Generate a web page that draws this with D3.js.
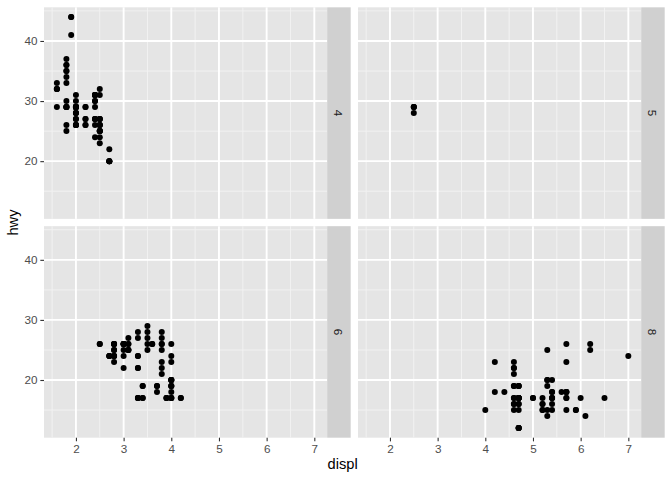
<!DOCTYPE html>
<html><head><meta charset="utf-8">
<script src="https://cdn.jsdelivr.net/npm/d3@7"></script>
<style>body{margin:0;background:#fff}svg{display:block}text{font-family:"Liberation Sans",Arial,Helvetica,sans-serif}</style>
</head><body><svg id="c" width="672" height="480"></svg>
<script>
// ---- data (mpg: displ vs hwy, faceted by cyl) ----
const facetLabels = ["4", "5", "6", "8"];
const displ4 = [1.8,1.8,2.0,2.0,1.8,1.8,2.0,2.0,2.4,2.4,2.4,1.6,1.6,1.6,1.6,1.6,1.8,1.8,1.8,2.0,2.4,2.4,2.4,2.4,2.0,2.0,2.0,2.0,2.4,2.4,2.5,2.5,2.5,2.5,2.5,2.5,2.5,2.5,2.2,2.2,2.5,2.5,2.5,2.5,2.5,2.5,2.7,2.7,2.2,2.2,2.4,2.4,2.2,2.2,2.4,2.4,1.8,1.8,1.8,1.8,1.8,2.7,2.7,2.7,2.0,2.0,2.0,2.0,1.9,2.0,2.0,2.0,2.0,1.9,1.9,2.0,2.0,1.8,1.8,2.0,2.0];
const hwy4   = [29,29,31,30,26,25,28,27,27,30,24,33,32,32,29,32,34,36,36,29,26,27,30,31,26,29,28,27,29,27,31,32,25,24,27,25,26,23,26,26,26,26,25,27,25,27,20,20,29,27,31,31,27,29,31,31,30,33,35,37,35,20,20,22,29,26,29,29,44,29,26,29,29,44,41,29,26,29,29,28,29];
const displ5 = [2.5,2.5,2.5,2.5];
const hwy5   = [29,29,28,29];
const displ6 = [2.8,2.8,3.1,2.8,2.8,3.1,3.1,2.8,3.1,3.1,3.5,3.6,3.0,3.3,3.3,3.3,3.3,3.3,3.8,3.8,3.8,4.0,3.7,3.7,3.9,3.9,3.9,4.0,4.0,4.0,4.0,4.2,4.2,3.8,3.8,4.0,4.0,2.5,2.5,3.3,2.7,2.7,2.7,3.0,3.7,4.0,4.0,4.0,3.5,3.5,3.0,3.0,3.5,3.3,3.3,4.0,3.1,3.8,3.8,3.8,3.4,3.4,4.0,3.0,3.0,3.5,3.0,3.0,3.3,3.4,3.4,4.0,4.0,2.8,2.8,2.8,2.8,2.8,3.6];
const hwy6   = [26,26,27,25,25,25,25,24,25,26,29,26,24,22,22,24,24,17,22,21,23,23,19,18,17,17,17,17,19,17,19,17,17,26,25,26,24,26,26,28,24,24,24,22,19,20,17,19,27,26,26,25,25,17,17,20,26,26,27,28,19,17,20,26,26,28,26,26,27,17,19,18,20,24,23,24,26,26,26];
const displ8 = [4.2,5.3,5.3,5.3,5.7,6.0,5.7,5.7,6.2,6.2,7.0,5.3,5.3,5.7,6.5,4.7,4.7,4.7,5.2,5.2,4.7,4.7,4.7,5.2,5.7,5.9,4.7,4.7,4.7,4.7,4.7,5.2,5.2,5.7,5.9,4.6,5.4,5.4,4.6,5.0,4.6,4.6,4.6,5.4,5.4,4.6,4.6,4.6,4.6,5.4,4.7,4.7,4.7,5.7,6.1,4.0,4.2,4.4,4.6,5.4,5.4,5.4,4.6,5.0,5.6,5.3,4.7,4.7,5.7];
const hwy8   = [23,20,15,20,17,17,26,23,26,25,24,19,14,15,17,19,19,12,17,15,17,12,17,16,18,15,16,12,17,17,16,15,16,17,15,17,17,18,19,17,16,16,17,15,17,21,22,23,22,20,17,12,19,18,14,15,18,18,15,17,16,18,19,17,18,25,17,15,18];
const xTicks = [2, 3, 4, 5, 6, 7];
const yTicks = [20, 30, 40];
const xMinor = [1.5, 2.5, 3.5, 4.5, 5.5, 6.5];
const yMinor = [15, 25, 35, 45];

const facets = [
  {label: facetLabels[0], x: displ4, y: hwy4},
  {label: facetLabels[1], x: displ5, y: hwy5},
  {label: facetLabels[2], x: displ6, y: hwy6},
  {label: facetLabels[3], x: displ8, y: hwy8}
];

// ---- layout ----
const svg = d3.select("#c");
const L = 44, R = 664.7, T = 7.33, B = 437.7;
const stripW = 23.5, gap = 7.33;
const pw = (R - L - 2 * stripW - gap) / 2;
const ph = (B - T - gap) / 2;

const allX = [].concat(displ4, displ5, displ6, displ8);
const allY = [].concat(hwy4, hwy5, hwy6, hwy8);
const [x0, x1] = d3.extent(allX), [y0, y1] = d3.extent(allY);
const xd = [x0 - 0.05 * (x1 - x0), x1 + 0.05 * (x1 - x0)];
const yd = [y0 - 0.05 * (y1 - y0), y1 + 0.05 * (y1 - y0)];
const x = d3.scaleLinear().domain(xd).range([0, pw]);
const y = d3.scaleLinear().domain(yd).range([ph, 0]);

facets.forEach((f, i) => {
  const col = i % 2, row = Math.floor(i / 2);
  const px = L + col * (pw + stripW + gap);
  const py = T + row * (ph + gap);
  const g = svg.append("g").attr("transform", `translate(${px},${py})`);
  g.append("rect").attr("width", pw).attr("height", ph).attr("fill", "#E5E5E5");
  // minor grid
  g.selectAll(".mx").data(xMinor.filter(v => v > xd[0] && v < xd[1])).enter().append("line")
    .attr("x1", d => x(d)).attr("x2", d => x(d)).attr("y1", 0).attr("y2", ph)
    .attr("stroke", "#F2F2F2").attr("stroke-width", 0.95);
  g.selectAll(".my").data(yMinor.filter(v => v > yd[0] && v < yd[1])).enter().append("line")
    .attr("y1", d => y(d)).attr("y2", d => y(d)).attr("x1", 0).attr("x2", pw)
    .attr("stroke", "#F2F2F2").attr("stroke-width", 0.95);
  // major grid
  g.selectAll(".gx").data(xTicks).enter().append("line")
    .attr("x1", d => x(d)).attr("x2", d => x(d)).attr("y1", 0).attr("y2", ph)
    .attr("stroke", "#fff").attr("stroke-width", 1.9);
  g.selectAll(".gy").data(yTicks).enter().append("line")
    .attr("y1", d => y(d)).attr("y2", d => y(d)).attr("x1", 0).attr("x2", pw)
    .attr("stroke", "#fff").attr("stroke-width", 1.9);
  // points
  g.selectAll("circle").data(f.x.map((v, k) => [v, f.y[k]])).enter().append("circle")
    .attr("cx", d => x(d[0])).attr("cy", d => y(d[1])).attr("r", 3).attr("fill", "#000");
  // strip
  const s = g.append("g").attr("transform", `translate(${pw},0)`);
  s.append("rect").attr("width", stripW).attr("height", ph).attr("fill", "#D0D0D0");
  s.append("text").attr("transform", `translate(${stripW / 2},${ph / 2}) rotate(90)`)
    .attr("text-anchor", "middle").attr("dominant-baseline", "central")
    .attr("font-size", 11.7).attr("fill", "#1A1A1A").text(f.label);
  // axes
  if (row === 1) {
    const ax = g.append("g").attr("transform", `translate(0,${ph})`)
      .call(d3.axisBottom(x).tickValues(xTicks).tickFormat(d3.format("d")).tickSize(3.67).tickPadding(2.9));
    ax.select(".domain").remove();
    ax.selectAll("line").attr("stroke", "#333333").attr("stroke-width", 1.1);
    ax.selectAll("text").attr("fill", "#4D4D4D").attr("font-size", 11.7).attr("font-family", null);
  }
  if (col === 0) {
    const ay = g.append("g")
      .call(d3.axisLeft(y).tickValues(yTicks).tickFormat(d3.format("d")).tickSize(3.67).tickPadding(2.9));
    ay.select(".domain").remove();
    ay.selectAll("line").attr("stroke", "#333333").attr("stroke-width", 1.1);
    ay.selectAll("text").attr("fill", "#4D4D4D").attr("font-size", 11.7).attr("font-family", null);
  }
});

// axis titles
svg.append("text").attr("x", (L + R - stripW) / 2)
  .attr("y", 469).attr("text-anchor", "middle").attr("font-size", 14.67).attr("fill", "#000").text("displ");
svg.append("text").attr("transform", `translate(18,${(T + B) / 2}) rotate(-90)`)
  .attr("text-anchor", "middle").attr("font-size", 14.67).attr("fill", "#000").text("hwy");
</script></body></html>
